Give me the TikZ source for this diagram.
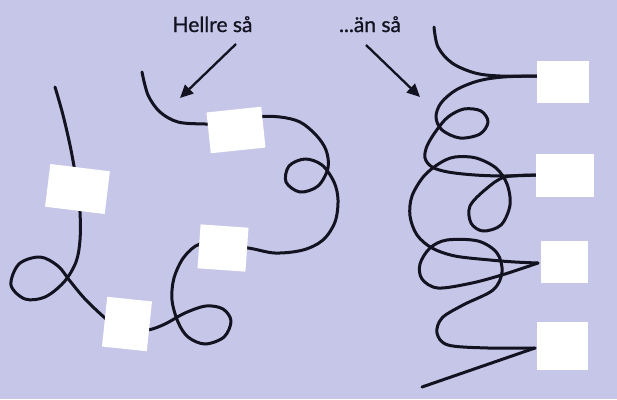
\documentclass[tikz,border=0pt]{standalone}
\usepackage{fontspec}
\setmainfont{Lato}
\newfontfamily\capfont{Lato}[FakeBold=0.9]
\usetikzlibrary{arrows.meta}
\definecolor{bg}{RGB}{198,198,232}
\definecolor{ink}{RGB}{18,18,32}
\begin{document}
\begin{tikzpicture}[x=1pt,y=-1pt,
  thread/.style={draw=ink, line width=3pt, line cap=round, line join=round},
  card/.style={fill=white, draw=none, inner sep=0pt},
  pointer/.style={draw=ink, line width=2.3pt, -{Triangle[length=13pt,width=12pt]}},
  caption/.style={font=\capfont\fontsize{21}{24}\selectfont, text=ink, inner sep=0pt, anchor=base}]
\fill[bg] (0,0) rectangle (617,399);
\useasboundingbox (0,0) rectangle (617,399);

% captions and arrows
\node[caption] (t1) at (212.5,32) {Hellre så};
\node[caption] (t2) at (370,32) {...än så};
\coordinate (a1s) at (236,44);
\coordinate (a1e) at (180,98);
\coordinate (a2s) at (366,45);
\coordinate (a2e) at (420,97);
\draw[pointer] (a1s) -- (a1e);
\draw[pointer] (a2s) -- (a2e);

% left thread (one piece, passing under the cards)
\draw[thread] plot[smooth, tension=0.55] coordinates {
  (55,87) (63,115) (71,150) (77,185) (80,212) (80,240) (76,262) (64,282)
  (45,297) (25,299) (11,285) (19,264) (40,257) (58,266) (70,281) (86,300)
  (110,322) (127,330) (148,330) (165,324) (185,313) (206,306) (223,309)
  (231,321) (224,337) (205,344) (188,337) (178,322) (172,300) (174,278)
  (184,257) (200,244) (222,247) (248,248) (275,253) (303,250) (323,240)
  (335,222) (338,200) (334,182) (322,165) (305,159) (289,166) (286,182)
  (300,192) (318,186) (328,168) (326,150) (316,135) (300,122) (280,117)
  (258,117) (236,124) (205,124) (178,122) (160,112) (148,95) (142,72)};

% right thread (with sharp turns at the cards)
\draw[thread] plot[smooth, tension=0.55] coordinates {
  (434,27) (438,47) (452,63) (475,73) (500,76) (537,76)};
\draw[thread] plot[smooth, tension=0.55] coordinates {
  (537,76) (503,77) (478,81) (456,90) (441,103) (436,117) (442,130) (460,138)
  (480,134) (488,122) (481,111) (464,109) (448,117) (436,131) (427,146)
  (425,158) (432,167) (448,172) (475,175) (505,176) (537,175)};
\draw[thread] plot[smooth, tension=0.55] coordinates {
  (537,175) (505,177) (486,189) (470,206) (471,223) (483,231) (501,225)
  (510,205) (507,184) (496,168) (476,158) (455,157) (440,163) (424,176)
  (412,196) (410,216) (417,235) (432,248) (455,256) (490,260) (515,262) (538,263)};
\draw[thread] plot[smooth, tension=0.55] coordinates {
  (538,263) (505,274) (472,283) (438,288) (422,279) (420,264) (430,248)
  (447,240) (478,241) (497,253) (502,272) (493,290) (463,305) (442,318)
  (437,333) (448,345) (488,348) (535,348)};
\coordinate (endR) at (422,387);
\coordinate (c8in) at (535,348);
\draw[thread] (c8in) -- (endR);

% cards, left
\node[card, minimum width=60pt, minimum height=43pt, rotate=-7] (b1) at (77.5,189) {};
\node[card, minimum width=45pt, minimum height=50pt, rotate=-6] (b2) at (127,324) {};
\node[card, minimum width=48pt, minimum height=44pt, rotate=-4] (b3) at (223,248) {};
\node[card, minimum width=55pt, minimum height=41pt, rotate=6] (b4) at (236,130) {};
% cards, right
\node[card, minimum width=52pt, minimum height=42pt] (b5) at (563,82) {};
\node[card, minimum width=58pt, minimum height=43pt] (b6) at (565,175.5) {};
\node[card, minimum width=47pt, minimum height=42pt] (b7) at (564.5,262) {};
\node[card, minimum width=51pt, minimum height=48pt] (b8) at (562.5,346) {};
\end{tikzpicture}
\end{document}
